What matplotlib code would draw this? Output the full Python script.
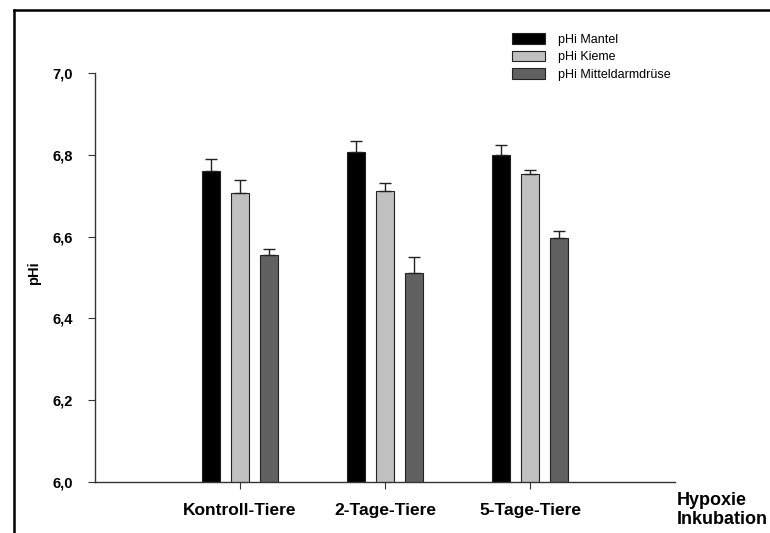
import matplotlib
matplotlib.use("Agg")
import matplotlib.pyplot as plt
import numpy as np
from matplotlib.lines import Line2D
from matplotlib.patches import Patch

plt.rcParams['font.family'] = ['Liberation Sans', 'DejaVu Sans']

groups = ["Kontroll-Tiere", "2-Tage-Tiere", "5-Tage-Tiere"]
series = ["pHi Mantel", "pHi Kieme", "pHi Mitteldarmdrüse"]
mantel = [6.761, 6.807, 6.800]
kieme = [6.707, 6.712, 6.753]
mitteldarm = [6.554, 6.511, 6.596]
mantel_err = [0.028, 0.026, 0.023]
kieme_err = [0.031, 0.020, 0.010]
mitteldarm_err = [0.016, 0.040, 0.017]
y_ticks = [6.0, 6.2, 6.4, 6.6, 6.8, 7.0]
y_ticklabels = ["6,0", "6,2", "6,4", "6,6", "6,8", "7,0"]

colors = ["#000000", "#c0c0c0", "#616161"]

W, H = 770, 533
fig = plt.figure(figsize=(W / 100, H / 100), dpi=100)
ax = fig.add_axes([95 / W, (H - 482) / H, (675 - 95) / W, (482 - 73) / H])

x = np.arange(len(groups))
width = 0.12
offsets = [-0.2, 0.0, 0.2]
for vals, errs, col, off, name in zip([mantel, kieme, mitteldarm],
                                      [mantel_err, kieme_err, mitteldarm_err],
                                      colors, offsets, series):
    ax.bar(x + off, vals, width, color=col, edgecolor="#222222", linewidth=0.8,
           label=name, zorder=2)
    ax.errorbar(x + off, vals, yerr=[np.zeros(len(errs)), errs], fmt="none",
                ecolor="#222222", elinewidth=1.0, capsize=4.3, capthick=1.0,
                zorder=3)

ax.set_xlim(-1, 3)
ax.set_ylim(6.0, 7.0)
ax.set_yticks(y_ticks)
ax.set_yticklabels(y_ticklabels, fontsize=10.5, fontweight="bold")
ax.set_xticks(x)
ax.set_xticklabels(groups, fontsize=12.5, fontweight="bold")
ax.tick_params(axis="y", direction="out", length=5, width=0.8, color="#333333", pad=11)
ax.tick_params(axis="x", direction="out", length=5, width=0.8, color="#333333", pad=10)
for s in ["top", "right"]:
    ax.spines[s].set_visible(False)
for s in ["left", "bottom"]:
    ax.spines[s].set_color("#333333")
    ax.spines[s].set_linewidth(1.0)
ax.set_ylabel("pHi", fontsize=10.5, fontweight="bold")
ax.yaxis.set_label_coords((41 - 95) / (675 - 95), (482 - 273) / (482 - 73))

fig.text(677 / W, 1 - 510 / H, "Hypoxie\nInkubation", fontsize=13,
         fontweight="bold", ha="left", va="center", linespacing=1.15)

handles = [Patch(facecolor=c, edgecolor="#222222", linewidth=0.8) for c in colors]
fig.legend(handles, series, loc="upper left", bbox_to_anchor=(507 / W, 1 - 28 / H),
           frameon=False, fontsize=9, handlelength=2.65, handleheight=0.95,
           handletextpad=1.0, labelspacing=0.4, borderaxespad=0)

# outer frame lines (left and top)
fig.add_artist(Line2D([14 / W, 14 / W], [0, 1 - 10 / H], transform=fig.transFigure,
                      color="black", linewidth=1.8))
fig.add_artist(Line2D([14 / W, 1], [1 - 10 / H, 1 - 10 / H], transform=fig.transFigure,
                      color="black", linewidth=1.8))

fig.savefig("out.png", dpi=100)
